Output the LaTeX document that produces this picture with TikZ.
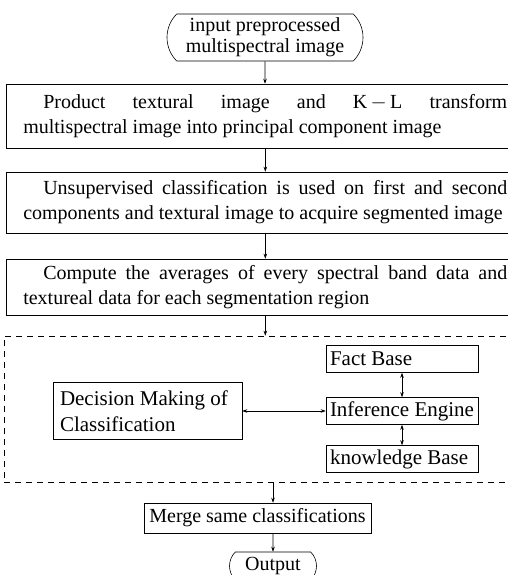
\documentclass[tikz,border=0pt]{standalone}
\usepackage{fontspec}
\setmainfont{Liberation Serif}
\usetikzlibrary{shapes.misc,arrows.meta}
\begin{document}
\begin{tikzpicture}[x=1pt,y=-1pt,line width=0.6pt,
  every node/.style={font=\fontsize{20}{25}\selectfont},
  term/.style={draw,rounded rectangle,rounded rectangle arc length=90,inner sep=0pt},
  stepbox/.style={draw,anchor=west,text width=484pt,inner xsep=17pt,inner ysep=0pt,align=justify},
  kbox/.style={draw,text width=144pt,inner xsep=4pt,inner ysep=0pt,minimum height=27pt,align=flush left,font=\fontsize{21}{26}\selectfont},
  arr/.style={-{Stealth[length=5pt,width=3.5pt]}},
  dbl/.style={{Stealth[length=5pt,width=3.5pt]}-{Stealth[length=5pt,width=3.5pt]}}]
  \useasboundingbox (0,0) rectangle (508,575);
  \node[term,align=center,minimum width=196pt,minimum height=47pt,font=\fontsize{20}{21}\selectfont] (inp) at (265,37.5) {input preprocessed\\multispectral image};
  \node[stepbox,minimum height=64pt] (pca) at (6,116) {\hspace*{20pt}Product textural image and K\,$-$\,L transform\linebreak multispectral image into principal component image};
  \node[stepbox,minimum height=61pt] (seg) at (6,202.5) {\hspace*{20pt}Unsupervised classification is used on first and second\linebreak components and textural image to acquire segmented image};
  \node[stepbox,minimum height=56pt] (avg) at (6,287) {\hspace*{20pt}Compute the averages of every spectral band data and\linebreak textureal data for each segmentation region};
  \node[draw,dashed,dash pattern=on 6pt off 5pt,minimum width=508pt,minimum height=146pt] (sys) at (258,409) {};
  \node[kbox] (fact) at (402,359) {Fact Base};
  \node[kbox] (inf) at (402,411) {Inference Engine};
  \node[kbox] (know) at (402,459) {knowledge Base};
  \node[kbox,text width=175pt,inner xsep=7pt,minimum height=57pt] (dec) at (147.5,411) {Decision Making of\\Classification};
  \node[draw,minimum width=227pt,minimum height=30pt,inner xsep=4pt,inner ysep=0pt] (mrg) at (257.5,518) {Merge same classifications};
  \node[term,minimum width=87pt,minimum height=28pt] (out) at (273,566) {Output};
  \draw[arr] (inp) -- (inp |- pca.north);
  \draw[arr] (pca.south) -- (seg.north);
  \draw[arr] (seg.south) -- (avg.north);
  \draw[arr] (avg.south) -- (avg.south |- sys.north);
  \draw[dbl] (fact) -- (inf);
  \draw[dbl] (inf) -- (know);
  \draw[dbl] (dec) -- (inf);
  \draw[arr] (sys.south -| out) -- (mrg.north -| out);
  \draw[arr] (mrg.south -| out) -- (out);
\end{tikzpicture}
\end{document}
